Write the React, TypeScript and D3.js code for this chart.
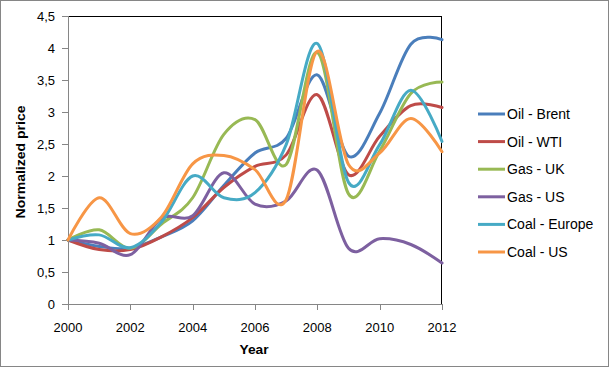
import React from "react";
import * as d3 from "d3";

const years = [2000, 2001, 2002, 2003, 2004, 2005, 2006, 2007, 2008, 2009, 2010, 2011, 2012];
const oilBrent = [1, 0.9, 0.87, 1.05, 1.3, 1.85, 2.36, 2.59, 3.58, 2.31, 2.98, 4.06, 4.13];
const oilWTI = [1, 0.85, 0.85, 1.05, 1.35, 1.82, 2.15, 2.33, 3.27, 2.02, 2.62, 3.1, 3.07];
const gasUK = [1, 1.16, 0.87, 1.25, 1.66, 2.65, 2.88, 2.18, 3.93, 1.72, 2.39, 3.29, 3.47];
const gasUS = [1, 0.95, 0.77, 1.34, 1.38, 2.05, 1.56, 1.61, 2.09, 0.87, 1.02, 0.93, 0.64];
const coalEurope = [1, 1.08, 0.88, 1.28, 2.0, 1.66, 1.74, 2.49, 4.07, 1.9, 2.49, 3.34, 2.54];
const coalUS = [1, 1.66, 1.1, 1.36, 2.19, 2.32, 2.1, 1.63, 3.95, 2.18, 2.36, 2.9, 2.38];
const seriesNames = ["Oil - Brent", "Oil - WTI", "Gas - UK", "Gas - US", "Coal - Europe", "Coal - US"];
const seriesValues = [oilBrent, oilWTI, gasUK, gasUS, coalEurope, coalUS];
const colors = ["#4A7EBB", "#BE4B48", "#98B954", "#7D60A0", "#46AAC5", "#F79646"];
const yTicks = [0, 0.5, 1, 1.5, 2, 2.5, 3, 3.5, 4, 4.5];
const xTicks = [2000, 2002, 2004, 2006, 2008, 2010, 2012];

const W = 609;
const H = 367;
const left = 68;
const right = 442;
const top = 16;
const bottom = 304;
const font = "'Liberation Sans', Arial, sans-serif";

export default function App() {
  const x = d3.scaleLinear().domain([2000, 2012]).range([left, right]);
  const y = d3.scaleLinear().domain([0, 4.5]).range([bottom, top]);
  const line = d3
    .line<number>()
    .x((_, i) => x(years[i]))
    .y((d) => y(d))
    .curve(d3.curveCardinal.tension(0));
  const fmt = (v: number) => String(v).replace(".", ",");

  return (
    <svg
      width={W}
      height={H}
      style={{ position: "absolute", left: 0, top: 0, background: "#fff" }}
      fontFamily={font}
    >
      <rect x={0.5} y={0.5} width={W - 1} height={H - 1} fill="#fff" stroke="#868686" />
      <line x1={left} x2={right} y1={top + 0.5} y2={top + 0.5} stroke="#000" />
      <line x1={right - 0.5} x2={right - 0.5} y1={top} y2={bottom} stroke="#000" />
      <line x1={left + 0.5} x2={left + 0.5} y1={top} y2={bottom} stroke="#868686" />
      <line x1={left} x2={right} y1={bottom + 0.5} y2={bottom + 0.5} stroke="#868686" />
      {yTicks.map((t) => (
        <g key={"y" + t}>
          <line x1={left - 6} x2={left} y1={Math.round(y(t)) + 0.5} y2={Math.round(y(t)) + 0.5} stroke="#868686" />
          <text x={55} y={y(t)} dy="0.35em" textAnchor="end" fontSize={13} fill="#000">
            {fmt(t)}
          </text>
        </g>
      ))}
      {xTicks.map((t) => (
        <g key={"x" + t}>
          <line x1={Math.round(x(t)) + 0.5} x2={Math.round(x(t)) + 0.5} y1={bottom} y2={bottom + 6} stroke="#868686" />
          <text x={x(t)} y={332} textAnchor="middle" fontSize={13} fill="#000">
            {t}
          </text>
        </g>
      ))}
      <text x={254} y={354} textAnchor="middle" fontSize={13} fontWeight="bold" textLength={29} lengthAdjust="spacingAndGlyphs">
        Year
      </text>
      <text
        transform={`translate(25,162) rotate(-90)`}
        textAnchor="middle"
        fontSize={13}
        fontWeight="bold"
        textLength={113}
        lengthAdjust="spacingAndGlyphs"
      >
        Normalized price
      </text>
      {seriesValues.map((vals, i) => (
        <path key={seriesNames[i]} d={line(vals) || ""} fill="none" stroke={colors[i]} strokeWidth={3} strokeLinejoin="round" strokeLinecap="round" />
      ))}
      {seriesNames.map((n, i) => {
        const ly = 114 + i * 27.6;
        return (
          <g key={"lg" + n}>
            <line x1={478} x2={505} y1={ly} y2={ly} stroke={colors[i]} strokeWidth={3} />
            <text x={507} y={ly} dy="0.35em" fontSize={14} fill="#000">
              {n}
            </text>
          </g>
        );
      })}
    </svg>
  );
}
